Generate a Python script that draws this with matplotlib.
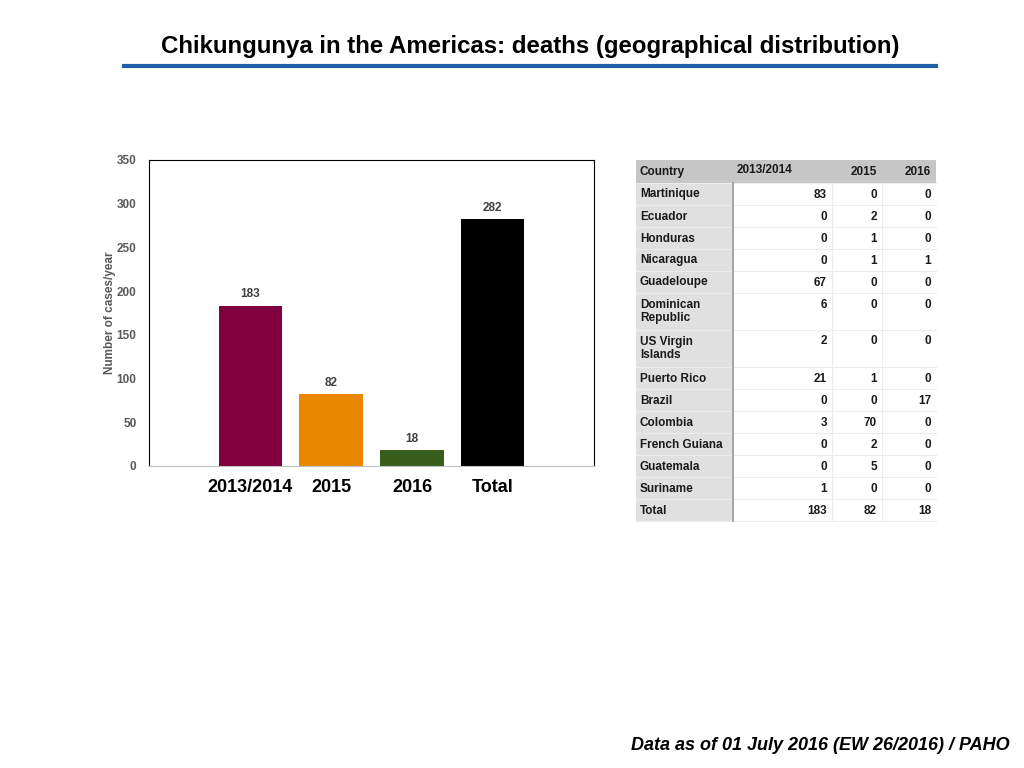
import matplotlib
matplotlib.use("Agg")
import matplotlib.pyplot as plt
from matplotlib.patches import Rectangle

plt.rcParams['font.family'] = ['Liberation Sans', 'DejaVu Sans']

# ---- data ----
title = "Chikungunya in the Americas: deaths (geographical distribution)"
footer = "Data as of 01 July 2016 (EW 26/2016) / PAHO"
bar_labels = ["2013/2014", "2015", "2016", "Total"]
bar_values = [183, 82, 18, 282]
bar_colors = ["#7f003c", "#e98700", "#375f1b", "#000000"]
y_label = "Number of cases/year"

table_header = ["Country", "2013/2014", "2015", "2016"]
countries = ["Martinique", "Ecuador", "Honduras", "Nicaragua", "Guadeloupe",
             "Dominican\nRepublic", "US Virgin\nIslands", "Puerto Rico", "Brazil",
             "Colombia", "French Guiana", "Guatemala", "Suriname", "Total"]
deaths_2013_2014 = [83, 0, 0, 0, 67, 6, 2, 21, 0, 3, 0, 0, 1, 183]
deaths_2015 = [0, 2, 1, 1, 0, 0, 0, 1, 0, 70, 2, 5, 0, 82]
deaths_2016 = [0, 0, 0, 1, 0, 0, 0, 0, 17, 0, 0, 0, 0, 18]

W, H = 1024, 768
fig = plt.figure(figsize=(W / 100, H / 100), dpi=100)
fig.patch.set_facecolor("white")

# ---- title and rule ----
fig.text(530 / W, 1 - 47 / H, title, ha="center", va="center",
         fontsize=17.3, fontweight="bold", color="black")
fig.add_artist(plt.Line2D([124 / W, 936 / W], [1 - 66 / H, 1 - 66 / H],
                          color="#1f5fa8", lw=3, transform=fig.transFigure))
fig.text(1010 / W, 1 - 745 / H, footer, ha="right", va="center",
         fontsize=13, fontweight="bold", fontstyle="italic", color="black")

# ---- bar chart ----
ax = fig.add_axes([149 / W, 1 - 466 / H, 445 / W, 306 / H])
x = list(range(len(bar_values)))
bars = ax.bar(x, bar_values, width=0.78, color=bar_colors)
ax.set_xlim(-1.25, len(bar_values) - 1 + 1.25)
ax.set_ylim(0, 350)
ax.set_yticks(range(0, 351, 50))
ax.set_xticks(x)
ax.set_xticklabels(bar_labels, fontsize=13, fontweight="bold", color="black")
ax.tick_params(axis="x", length=0, pad=9)
ax.tick_params(axis="y", length=0, pad=9, labelsize=8.5, labelcolor="#595959")
for lab in ax.get_yticklabels():
    lab.set_fontweight("bold")
for s in ["left", "top", "right"]:
    ax.spines[s].set_color("black")
    ax.spines[s].set_linewidth(0.8)
ax.spines["bottom"].set_color("#bfbfbf")
ax.spines["bottom"].set_linewidth(0.8)
ax.set_ylabel(y_label, fontsize=8.5, color="#595959", fontweight="bold")
ax.yaxis.set_label_coords(-0.075, 0.5)
for b, v in zip(bars, bar_values):
    ax.annotate(str(v), (b.get_x() + b.get_width() / 2, v), xytext=(0, 4),
                textcoords="offset points", ha="center", va="bottom",
                fontsize=8.5, fontweight="bold", color="#404040")

# ---- table ----
tax = fig.add_axes([0, 0, 1, 1])
tax.set_xlim(0, W)
tax.set_ylim(H, 0)
tax.axis("off")

col_edges = [636, 733, 832, 882, 936]
row_heights = [23] + [22 if "\n" not in c else 37 for c in countries]
row_tops = [160]
for h in row_heights:
    row_tops.append(row_tops[-1] + h)
table_bottom = row_tops[-1]

# background: country column and header
tax.add_patch(Rectangle((col_edges[0], row_tops[0]), col_edges[1] - col_edges[0],
                        table_bottom - row_tops[0], facecolor="#e0e0e0", edgecolor="none"))
tax.add_patch(Rectangle((col_edges[0], row_tops[0]), col_edges[-1] - col_edges[0],
                        row_heights[0], facecolor="#c6c6c6", edgecolor="none"))
# row lines
for yt in row_tops[1:]:
    tax.plot([col_edges[0], col_edges[-1]], [yt, yt], color="#ececec", lw=0.8)
# vertical lines
for xe in col_edges[2:-1]:
    tax.plot([xe, xe], [row_tops[1], table_bottom], color="#ececec", lw=0.8)
tax.plot([col_edges[1], col_edges[1]], [row_tops[1], table_bottom], color="#9a9a9a", lw=1.2)

fs = 8.5
# header
tax.text(col_edges[0] + 4, row_tops[0] + 11.5, table_header[0], ha="left", va="center",
         fontsize=fs, fontweight="bold", color="#1a1a1a")
tax.text(col_edges[1] + 4, row_tops[0] + 10, table_header[1], ha="left", va="center",
         fontsize=fs, fontweight="bold", color="#1a1a1a")
tax.text(col_edges[3] - 5, row_tops[0] + 12, table_header[2], ha="right", va="center",
         fontsize=fs, fontweight="bold", color="#1a1a1a")
tax.text(col_edges[4] - 5, row_tops[0] + 12, table_header[3], ha="right", va="center",
         fontsize=fs, fontweight="bold", color="#1a1a1a")

for i, c in enumerate(countries):
    top = row_tops[i + 1]
    lines = c.split("\n")
    for j, ln in enumerate(lines):
        tax.text(col_edges[0] + 4, top + 11.5 + j * 14, ln, ha="left", va="center",
                 fontsize=fs, fontweight="bold", color="#1a1a1a")
    vals = [deaths_2013_2014[i], deaths_2015[i], deaths_2016[i]]
    for k, v in enumerate(vals):
        tax.text(col_edges[k + 2] - 5, top + 11.5, str(v), ha="right", va="center",
                 fontsize=fs, fontweight="bold", color="#1a1a1a")

fig.savefig("out.png", dpi=100)
